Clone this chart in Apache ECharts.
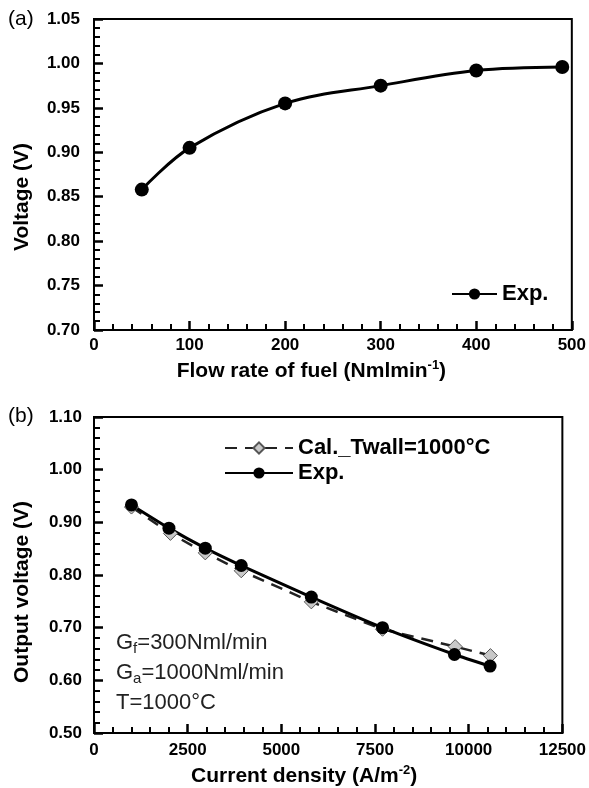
<!DOCTYPE html>
<html>
<head>
<meta charset="utf-8">
<script src="https://cdn.jsdelivr.net/npm/echarts@6/dist/echarts.min.js"></script>
<style>
  html, body { margin: 0; padding: 0; background: #fff; }
  #chart { width: 589px; height: 788px; }
</style>
</head>
<body>
<div id="chart"></div>
<script>
// (a) voltage vs fuel flow rate
const flowRate = [50, 100, 200, 300, 400, 490]
const voltageExpA = [0.858, 0.905, 0.955, 0.975, 0.992, 0.996]

// (b) output voltage vs current density
const currentExp = [1000, 2000, 2970, 3930, 5800, 7700, 9620, 10570]
const voltageExpB = [0.933, 0.889, 0.851, 0.818, 0.758, 0.700, 0.649, 0.627]
const currentCal = [1000, 2040, 2970, 3930, 5800, 7700, 9640, 10580]
const voltageCal = [0.929, 0.879, 0.842, 0.808, 0.749, 0.697, 0.664, 0.647]

const annotations = ['{n|G}{s|f}{n|=300Nml/min}', '{n|G}{s|a}{n|=1000Nml/min}', '{n|T=1000°C}']

const font = 'Liberation Sans, Arial, sans-serif'

const pairs = (xs, ys) => xs.map((x, i) => [x, ys[i]])

function valueAxis (opts, label) {
  return Object.assign({
    type: 'value',
    axisLine: { show: true, onZero: false, lineStyle: { color: '#000', width: 2 } },
    axisTick: { show: true, inside: true, length: 9, lineStyle: { color: '#000', width: 2.5 } },
    minorTick: { show: true, splitNumber: 5, length: 6, lineStyle: { color: '#000', width: 2 } },
    splitLine: { show: false },
    minorSplitLine: { show: false },
    axisLabel: Object.assign({ color: '#000', fontFamily: font, fontWeight: 'bold', fontSize: 17 }, label),
    nameLocation: 'middle'
  }, opts)
}

const titleRich = {
  b: { fontFamily: font, fontWeight: 'bold', fontSize: 21, lineHeight: 24, color: '#000' },
  sup: { fontFamily: font, fontWeight: 'bold', fontSize: 13, lineHeight: 13, verticalAlign: 'top', color: '#000' }
}

const legendText = { fontFamily: font, fontWeight: 'bold', fontSize: 22, color: '#000' }

const chart = echarts.init(document.getElementById('chart'))

chart.setOption({
  backgroundColor: '#fff',
  animation: false,
  grid: [
    { left: 94, top: 19, width: 485, height: 311, show: true, borderColor: '#000', borderWidth: 2 },
    { left: 94, top: 417, width: 470, height: 316, show: true, borderColor: '#000', borderWidth: 2 }
  ],
  xAxis: [
    valueAxis({
      gridIndex: 0, min: 0, max: 500, interval: 100,
      name: '{b|Flow rate of fuel (Nmlmin}{sup|-1}{b|)}',
      nameGap: 29,
      nameTextStyle: { rich: titleRich, padding: [0, 43, 0, 0] }
    }, { margin: 7, formatter: v => String(v) }),
    valueAxis({
      gridIndex: 1, min: 0, max: 12500, interval: 2500,
      name: '{b|Current density (A/m}{sup|-2}{b|)}',
      nameGap: 31,
      nameTextStyle: { rich: titleRich, padding: [0, 48, 0, 0] }
    }, { margin: 9, formatter: v => String(v) })
  ],
  yAxis: [
    valueAxis({
      gridIndex: 0, min: 0.70, max: 1.05, interval: 0.05,
      name: 'Voltage (V)',
      nameGap: 61,
      nameTextStyle: { fontFamily: font, fontWeight: 'bold', fontSize: 21, color: '#000', padding: [0, 45, 0, 0] }
    }, { margin: 14, formatter: v => v.toFixed(2) }),
    valueAxis({
      gridIndex: 1, min: 0.5, max: 1.1, interval: 0.1,
      name: 'Output voltage (V)',
      nameGap: 61,
      nameTextStyle: { fontFamily: font, fontWeight: 'bold', fontSize: 21, color: '#000', padding: [0, 34, 0, 0] }
    }, { margin: 12, formatter: v => v.toFixed(2) })
  ],
  legend: [
    {
      data: ['Exp.'],
      left: 451, top: 283, padding: 0,
      itemWidth: 45, itemHeight: 14,
      textStyle: legendText
    },
    {
      data: ['Cal._Twall=1000°C', 'Exp. '],
      orient: 'vertical',
      left: 224, top: 437, padding: 0,
      itemWidth: 68, itemHeight: 14, itemGap: 3,
      textStyle: legendText,
      formatter: name => name.trim()
    }
  ],
  series: [
    {
      name: 'Exp.',
      type: 'line',
      xAxisIndex: 0, yAxisIndex: 0,
      data: pairs(flowRate, voltageExpA),
      smooth: 0.35,
      symbol: 'circle', symbolSize: 14,
      lineStyle: { color: '#000', width: 3 },
      itemStyle: { color: '#000' }
    },
    {
      name: 'Cal._Twall=1000°C',
      type: 'line',
      xAxisIndex: 1, yAxisIndex: 1,
      data: pairs(currentCal, voltageCal),
      symbol: 'diamond', symbolSize: 14,
      lineStyle: { color: '#222', width: 2.5, type: [12, 8] },
      itemStyle: { color: '#c8c8c8', borderColor: '#555', borderWidth: 1 }
    },
    {
      name: 'Exp. ',
      type: 'line',
      xAxisIndex: 1, yAxisIndex: 1,
      data: pairs(currentExp, voltageExpB),
      smooth: 0.2,
      symbol: 'circle', symbolSize: 13,
      lineStyle: { color: '#000', width: 3 },
      itemStyle: { color: '#000' }
    }
  ],
  graphic: [
    { type: 'text', left: 8, top: 9, style: { text: '(a)', fontFamily: font, fontSize: 21, fill: '#000' } },
    { type: 'text', left: 8, top: 406, style: { text: '(b)', fontFamily: font, fontSize: 21, fill: '#000' } }
  ].concat(annotations.map((t, i) => ({
    type: 'text',
    left: 116,
    top: 632 + i * 30,
    style: {
      text: t,
      fill: '#222',
      rich: {
        n: { fontFamily: font, fontSize: 22, lineHeight: 26, fill: '#222', color: '#222' },
        s: { fontFamily: font, fontSize: 15, lineHeight: 15, verticalAlign: 'bottom', fill: '#222', color: '#222' }
      }
    }
  })))
})
</script>
</body>
</html>
